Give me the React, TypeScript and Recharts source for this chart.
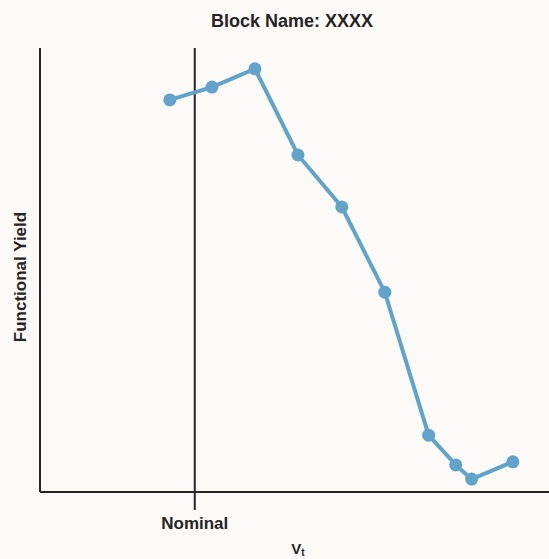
import { LineChart, Line, XAxis, YAxis, ReferenceLine } from "recharts";

// Vt offsets from nominal (arbitrary units) and functional yield (%)
const VT = [-0.58, 0.4, 1.4, 2.4, 3.42, 4.42, 5.44, 6.07, 6.44, 7.4];
const YIELD = [88.3, 91.2, 95.3, 75.9, 64.2, 45.0, 12.8, 6.1, 2.9, 6.8];
const X_TICKS = [0];
const X_TICK_LABELS = ["Nominal"];

const data = VT.map((vt, i) => ({ vt, yield: YIELD[i] }));

const INK = "#262425";
const BLUE = "#62a3c9";
const FONT = "'Liberation Sans', Arial, Helvetica, sans-serif";

export default function App() {
  return (
    <div
      style={{
        position: "absolute",
        left: 0,
        top: 0,
        width: 549,
        height: 559,
        background: "#fcfaf6",
        fontFamily: FONT,
      }}
    >
      <LineChart
        width={549}
        height={559}
        data={data}
        margin={{ top: 48, right: 0, bottom: 17, left: 30 }}
      >
        <XAxis
          type="number"
          dataKey="vt"
          domain={[-3.6, 8.24]}
          ticks={X_TICKS}
          tickFormatter={(_v: number, i: number) => X_TICK_LABELS[i]}
          tickSize={18}
          tickMargin={7}
          tickLine={{ stroke: "#2e2128", strokeWidth: 2 }}
          axisLine={{ stroke: INK, strokeWidth: 2 }}
          tick={{ fill: INK, fontSize: 17, fontWeight: 700, fontFamily: FONT }}
          height={50}
          allowDataOverflow
        />
        <YAxis
          type="number"
          domain={[0, 100]}
          tick={false}
          tickLine={false}
          axisLine={{ stroke: INK, strokeWidth: 2 }}
          width={10}
        />
        <ReferenceLine x={0} stroke="#2e2128" strokeWidth={2} />
        <Line
          type="linear"
          dataKey="yield"
          stroke={BLUE}
          strokeWidth={4}
          dot={{ r: 6.5, fill: BLUE, stroke: BLUE, strokeWidth: 0 }}
          isAnimationActive={false}
        />
        <text
          x={292}
          y={27}
          textAnchor="middle"
          fontSize={18}
          fontWeight={700}
          fill={INK}
          fontFamily={FONT}
        >
          Block Name: XXXX
        </text>
        <text
          x={26}
          y={277}
          textAnchor="middle"
          fontSize={17}
          fontWeight={700}
          fill={INK}
          fontFamily={FONT}
          transform="rotate(-90 26 277)"
        >
          Functional Yield
        </text>
        <text
          x={298}
          y={554}
          textAnchor="middle"
          fontSize={15}
          fontWeight={700}
          fill={INK}
          fontFamily={FONT}
        >
          V
          <tspan fontSize={10} dy={2}>
            t
          </tspan>
        </text>
      </LineChart>
    </div>
  );
}
